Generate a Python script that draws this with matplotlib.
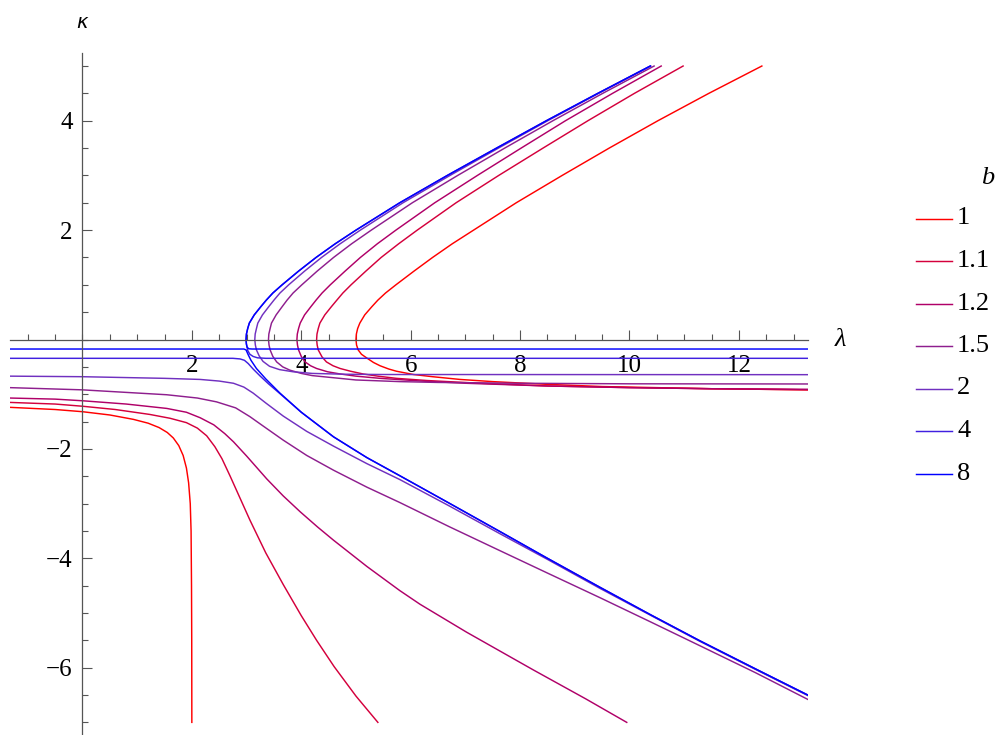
import matplotlib
matplotlib.use("Agg")
import matplotlib.pyplot as plt
from matplotlib.lines import Line2D
from matplotlib.ticker import MultipleLocator, FixedLocator
import numpy as np

# ---- parameter values and their colours ----
b_values = [1, 1.1, 1.2, 1.5, 2, 4, 8]
b_labels = ["1", "1.1", "1.2", "1.5", "2", "4", "8"]
b_colors = ["#ff0000", "#d4003c", "#b00068", "#8e1e8e", "#7030c0", "#4020e0", "#0000ff"]

# ---- upper arms: lambda at these kappa levels (top end down to the turning point) ----
kappa_upper = [5.0, 4.5, 4.0, 3.5, 3.0, 2.5, 2.0, 1.75, 1.5, 1.25, 1.0, 0.85, 0.72,
               0.6, 0.45, 0.3, 0.2, 0.1, 0.0]
lam_upper_b1 = [12.42, 11.45, 10.52, 9.63, 8.77, 7.93, 7.15, 6.76, 6.40, 6.06, 5.73, 5.54,
                5.40, 5.29, 5.16, 5.07, 5.03, 5.007, 5.0]
lam_upper_b11 = [10.98, 10.09, 9.24, 8.42, 7.61, 6.83, 6.12, 5.78, 5.46, 5.18, 4.91, 4.76,
                 4.65, 4.55, 4.43, 4.34, 4.31, 4.287, 4.28]
lam_upper_b12 = [10.58, 9.69, 8.83, 8.02, 7.22, 6.44, 5.73, 5.39, 5.08, 4.80, 4.53, 4.38,
                 4.27, 4.175, 4.06, 3.98, 3.95, 3.927, 3.92]
lam_upper_b15 = [10.45, 9.51, 8.60, 7.72, 6.86, 6.03, 5.28, 4.92, 4.59, 4.29, 4.01, 3.85,
                 3.74, 3.65, 3.54, 3.455, 3.43, 3.407, 3.40]
lam_upper_b2 = [10.39, 9.435, 8.505, 7.605, 6.72, 5.86, 5.08, 4.71, 4.37, 4.06, 3.77, 3.61,
                3.50, 3.405, 3.29, 3.205, 3.18, 3.157, 3.15]
lam_upper_b4 = [10.38, 9.42, 8.48, 7.57, 6.67, 5.80, 5.00, 4.62, 4.27, 3.95, 3.65, 3.48,
                3.36, 3.26, 3.14, 3.05, 3.02, 2.997, 2.99]
lam_upper_b8 = [10.38, 9.42, 8.48, 7.57, 6.67, 5.80, 5.00, 4.62, 4.27, 3.95, 3.65, 3.48,
                3.36, 3.26, 3.14, 3.05, 3.02, 2.997, 2.99]

# ---- continuation past the turning point (lambda, kappa) ----
tail_b1 = [(5.01, -0.1), (5.04, -0.19), (5.1, -0.27), (5.2, -0.34), (5.32, -0.42),
           (5.44, -0.48), (5.6, -0.54), (5.74, -0.58), (6.05, -0.64), (6.4, -0.68),
           (6.9, -0.73), (7.5, -0.77), (8.5, -0.82), (9.5, -0.86), (10.5, -0.88),
           (11.5, -0.9), (12.4, -0.91), (13.26, -0.92)]
tail_b11 = [(4.29, -0.1), (4.31, -0.19), (4.38, -0.32), (4.46, -0.41), (4.58, -0.48),
            (4.71, -0.53), (4.9, -0.58), (5.13, -0.63), (5.4, -0.67), (5.74, -0.71),
            (6.3, -0.75), (7.27, -0.8), (8.5, -0.85), (10.0, -0.88), (11.5, -0.9),
            (13.26, -0.92)]
tail_b12 = [(3.93, -0.1), (3.95, -0.19), (4.0, -0.31), (4.07, -0.41), (4.17, -0.48),
            (4.28, -0.53), (4.48, -0.59), (4.71, -0.63), (5.0, -0.67), (5.44, -0.71),
            (6.2, -0.76), (7.0, -0.8), (8.5, -0.85), (10.0, -0.88), (11.5, -0.9),
            (13.26, -0.91)]
tail_b15 = [(3.41, -0.1), (3.43, -0.19), (3.48, -0.31), (3.55, -0.41), (3.66, -0.5),
            (3.79, -0.56), (4.0, -0.62), (4.2, -0.66), (4.6, -0.7), (5.0, -0.74),
            (5.8, -0.77), (6.5, -0.785), (8.0, -0.8), (10.0, -0.81), (13.26, -0.813)]
tail_b2 = [(3.16, -0.1), (3.18, -0.19), (3.23, -0.3), (3.3, -0.4), (3.42, -0.49),
           (3.6, -0.55), (3.85, -0.59), (4.2, -0.62), (4.8, -0.635), (5.5, -0.64),
           (13.26, -0.643)]
tail_b4 = [(3.0, -0.1), (3.02, -0.2), (3.06, -0.27), (3.12, -0.31), (3.2, -0.335),
           (3.35, -0.344), (13.26, -0.344)]
tail_b8 = [(2.995, -0.08), (3.01, -0.14), (3.04, -0.17), (3.1, -0.174), (13.26, -0.174)]

# ---- lower branches (lambda, kappa), from the left edge ----
lower_b1 = [(-1.33, -1.24), (-0.5, -1.28), (0.0, -1.32), (0.5, -1.38), (0.93, -1.46),
            (1.2, -1.53), (1.4, -1.61), (1.55, -1.7), (1.66, -1.8), (1.76, -1.94),
            (1.84, -2.12), (1.9, -2.35), (1.94, -2.62), (1.97, -3.0), (1.985, -3.5),
            (1.993, -4.5), (1.997, -5.5), (1.999, -7.0)]
lower_b11 = [(-1.33, -1.15), (-0.5, -1.18), (0.0, -1.22), (0.6, -1.28), (1.23, -1.37),
             (1.6, -1.44), (1.9, -1.52), (2.1, -1.62), (2.27, -1.76), (2.42, -1.96),
             (2.55, -2.18), (2.7, -2.5), (2.88, -2.9), (3.06, -3.3), (3.35, -3.9),
             (3.67, -4.48), (4.0, -5.05), (4.28, -5.5), (4.6, -5.98), (5.0, -6.52),
             (5.4, -7.0)]
lower_b12 = [(-1.33, -1.07), (-0.5, -1.09), (0.0, -1.12), (0.8, -1.18), (1.54, -1.26),
             (1.9, -1.33), (2.15, -1.43), (2.4, -1.56), (2.6, -1.72), (2.76, -1.87),
             (3.0, -2.13), (3.37, -2.55), (3.67, -2.86), (3.98, -3.15), (4.3, -3.43),
             (4.59, -3.67), (5.2, -4.15), (5.8, -4.59), (6.17, -4.84), (7.02, -5.35),
             (8.24, -6.04), (9.2, -6.57), (9.95, -7.0)]
lower_b15 = [(-1.33, -0.88), (-0.01, -0.92), (1.54, -1.01), (2.1, -1.07), (2.45, -1.14),
             (2.8, -1.25), (3.06, -1.41), (3.3, -1.58), (3.67, -1.84), (4.1, -2.12),
             (4.59, -2.39), (5.2, -2.7), (5.8, -2.98), (6.7, -3.42), (7.63, -3.86),
             (8.5, -4.27), (9.46, -4.72), (10.4, -5.17), (11.29, -5.6), (12.3, -6.09),
             (13.26, -6.58)]
lower_b2 = [(-1.33, -0.67), (-0.01, -0.68), (1.5, -0.71), (2.15, -0.73), (2.5, -0.76),
            (2.76, -0.8), (2.95, -0.87), (3.12, -0.98), (3.35, -1.16), (3.67, -1.4),
            (4.1, -1.68), (4.59, -1.95), (5.2, -2.27), (5.8, -2.56), (6.7, -3.04),
            (7.63, -3.55), (8.5, -4.02), (9.46, -4.55), (10.4, -5.05), (11.29, -5.52),
            (12.3, -6.03), (13.26, -6.51)]
lower_b4 = [(-1.33, -0.344), (2.75, -0.344), (2.88, -0.355), (2.96, -0.38), (3.03, -0.44),
            (3.12, -0.54), (3.25, -0.67), (3.4, -0.81), (3.61, -0.99), (4.0, -1.33),
            (4.59, -1.78), (5.2, -2.16), (5.8, -2.49), (6.7, -2.99), (7.63, -3.51),
            (8.5, -4.0), (9.46, -4.53), (10.4, -5.04), (11.29, -5.51), (12.3, -6.02),
            (13.26, -6.5)]
lower_b8 = [(-1.33, -0.174), (2.95, -0.174), (2.99, -0.19), (3.03, -0.28), (3.08, -0.38),
            (3.18, -0.53), (3.35, -0.72), (3.61, -0.98), (4.0, -1.33), (4.59, -1.78),
            (5.2, -2.16), (5.8, -2.49), (6.7, -2.99), (7.63, -3.51), (8.5, -4.0),
            (9.46, -4.53), (10.4, -5.04), (11.29, -5.51), (12.3, -6.02), (13.26, -6.5)]

upper_lams = [lam_upper_b1, lam_upper_b11, lam_upper_b12, lam_upper_b15, lam_upper_b2,
              lam_upper_b4, lam_upper_b8]
tails = [tail_b1, tail_b11, tail_b12, tail_b15, tail_b2, tail_b4, tail_b8]
lowers = [lower_b1, lower_b11, lower_b12, lower_b15, lower_b2, lower_b4, lower_b8]

# ---- figure layout ----
W, H = 998, 735
fig = plt.figure(figsize=(W / 100, H / 100), dpi=100)
xlim = (-1.33, 13.26)
ylim = (-7.24, 5.24)
ax_px = (9.75, 52.9, 807.8, 735.5)  # left, top, right, bottom in pixels
ax = fig.add_axes([ax_px[0] / W, 1 - ax_px[3] / H,
                   (ax_px[2] - ax_px[0]) / W, (ax_px[3] - ax_px[1]) / H])
ax.set_xlim(*xlim)
ax.set_ylim(*ylim)
ax.patch.set_alpha(0)

for lam_up, tail, low, col in zip(upper_lams, tails, lowers, b_colors):
    tail_arr = np.array(tail)
    lam = np.concatenate([lam_up, tail_arr[:, 0]])
    kap = np.concatenate([kappa_upper, tail_arr[:, 1]])
    ax.plot(lam, kap, color=col, lw=1.05, solid_joinstyle="round")
    low_arr = np.array(low)
    ax.plot(low_arr[:, 0], low_arr[:, 1], color=col, lw=1.05, solid_joinstyle="round")

# ---- axes through the origin ----
axis_color = "#555555"
for side in ("top", "right"):
    ax.spines[side].set_visible(False)
ax.spines["left"].set_position(("data", 0))
ax.spines["bottom"].set_position(("data", 0))
for side in ("left", "bottom"):
    ax.spines[side].set_color(axis_color)
    ax.spines[side].set_linewidth(0.9)

ax.xaxis.set_major_locator(FixedLocator([2, 4, 6, 8, 10, 12]))
ax.xaxis.set_minor_locator(MultipleLocator(0.5))
ax.yaxis.set_major_locator(FixedLocator([-6, -4, -2, 2, 4]))
ax.yaxis.set_minor_locator(MultipleLocator(0.5))
ax.tick_params(which="major", direction="in", length=7.5, width=0.8, color=axis_color)
ax.tick_params(which="minor", direction="in", length=4.6, width=0.8, color=axis_color)
ax.tick_params(axis="x", which="major", pad=11)
ax.tick_params(axis="y", which="major", pad=7)

serif = "Liberation Serif"
ax.set_xticklabels(["2", "4", "6", "8", "10", "12"], fontfamily=serif, fontsize=18)
ax.set_yticklabels(["\u22126", "\u22124", "\u22122", "2", "4"], fontfamily=serif, fontsize=18)

# axis labels
fig.text(82 / W, 1 - 22 / H, "\u03ba", fontsize=14, fontfamily="DejaVu Sans",
         style="italic", ha="center", va="center")
fig.text(840 / W, 1 - 340 / H, "\u03bb", fontsize=19, fontfamily=serif,
         style="italic", ha="center", va="center")

# ---- legend ----
fig.text(988 / W, 1 - 178 / H, "b", fontsize=19, fontfamily=serif, style="italic",
         ha="center", va="center")
for i, (lab, col) in enumerate(zip(b_labels, b_colors)):
    yc = 1 - (218.5 + i * 42.5) / H
    fig.add_artist(Line2D([916 / W, 952 / W], [yc, yc], color=col, lw=1.05,
                          transform=fig.transFigure))
    fig.text(957 / W, yc, lab, fontsize=19, fontfamily=serif, ha="left", va="center")

fig.savefig("out.png", dpi=100)
